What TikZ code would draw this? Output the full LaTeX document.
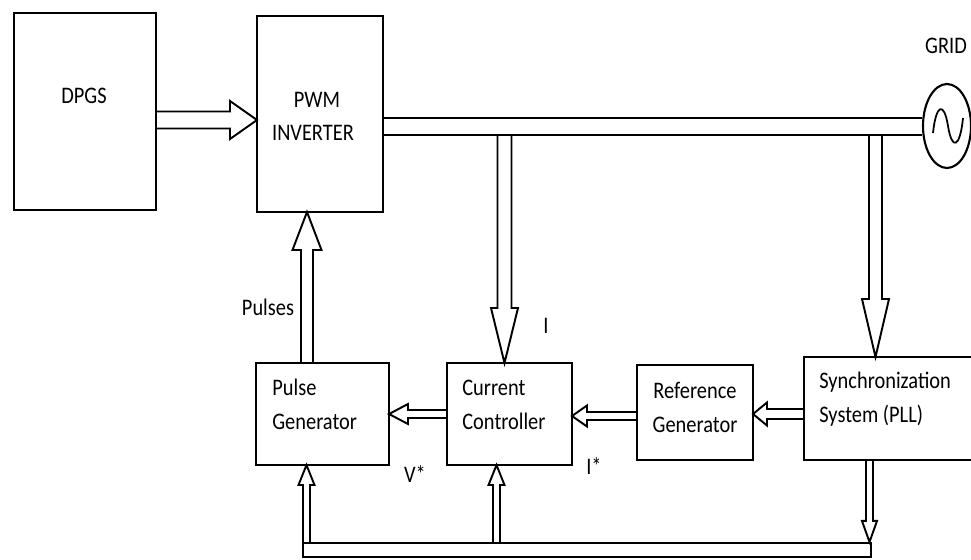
\documentclass[tikz,border=0pt]{standalone}
\usepackage{fontspec}
\setmainfont{Carlito}[FakeStretch=0.86]
\usetikzlibrary{positioning,calc,shapes.geometric}

\newcommand{\pxu}{0.2mm}
% hollow block arrow: tail, tip, shaft half width, head half width, head length
\newcommand{\fatarrow}[5]{%
  \path ($(#2)!#5*\pxu!(#1)$) coordinate (hb);
  \draw[fatline] ($(#1)!#3*\pxu!90:(#2)$) -- ($(hb)!#3*\pxu!90:(#2)$)
    -- ($(hb)!#4*\pxu!90:(#2)$) -- (#2) -- ($(hb)!#4*\pxu!-90:(#2)$)
    -- ($(hb)!#3*\pxu!-90:(#2)$) -- ($(#1)!#3*\pxu!-90:(#2)$);
}

\tikzset{
  blockbox/.style={draw, line width=1.6pt, inner sep=0pt, outer sep=0pt},
  fatline/.style={line width=1.1pt, line join=miter},
  busline/.style={line width=1.3pt},
  lbl/.style={inner sep=0pt, font=\fontsize{13.5}{16}\selectfont},
}

\begin{document}
\begin{tikzpicture}[x=0.2mm, y=-0.2mm]
\useasboundingbox (0,0) rectangle (971,559);
% blocks
\node[blockbox, minimum width=28.4mm, minimum height=39.4mm] (dpgs) at (85,111.5) {};
\node[blockbox, minimum width=25.2mm, minimum height=39.2mm] (pwm) at (320,114) {};
\node[blockbox, minimum width=26.6mm, minimum height=20.4mm] (pulsegen) at (322.5,414) {};
\node[blockbox, minimum width=25mm, minimum height=20.4mm] (curctrl) at (509.5,414) {};
\node[blockbox, minimum width=23.2mm, minimum height=19mm] (refgen) at (695,412.5) {};
\node[blockbox, minimum width=35.2mm, minimum height=20.6mm] (sync) at (892,408.5) {};
\node[ellipse, draw, line width=1.2pt, minimum width=9.6mm, minimum height=16.8mm, inner sep=0pt] (grid) at (947,126) {};
\node[draw, line width=1.2pt, inner sep=0pt, minimum width=113.6mm, minimum height=2.8mm] (bus) at (587,550) {};
% source symbol
\draw[line width=1pt] (933,133) .. controls (936,104) and (944,101) .. (948,126)
  .. controls (952,151) and (960,148) .. (963,118);
% labels
\node[lbl, anchor=base] (tdpgs) at (84,103) {DPGS};
\node[lbl, anchor=base] (tpwm) at (317,107) {PWM};
\node[lbl, anchor=base] (tinv) at (313,140) {INVERTER};
\node[lbl, anchor=base] (tgrid) at (946,53) {GRID};
\node[lbl, anchor=base] (tpulses) at (268,315) {Pulses};
\node[lbl, anchor=base] (ti) at (546,333) {I};
\node[lbl, anchor=base west] (tpg1) at (272,395) {Pulse};
\node[lbl, anchor=base west] (tpg2) at (272,429) {Generator};
\node[lbl, anchor=base west] (tcc1) at (462,395) {Current};
\node[lbl, anchor=base west] (tcc2) at (462,429) {Controller};
\node[lbl, anchor=base] (trg1) at (695,398) {Reference};
\node[lbl, anchor=base] (trg2) at (695,432) {Generator};
\node[lbl, anchor=base west] (ts1) at (819,388) {Synchronization};
\node[lbl, anchor=base west] (ts2) at (819,422) {System (PLL)};
\node[lbl, anchor=base] (tv) at (415,482) {V*};
\node[lbl, anchor=base] (tistar) at (594,474) {I*};
% arrow axes
\coordinate (ax1) at (200,120);
\coordinate (ax2) at (307,300);
\coordinate (ax3) at (504.5,300);
\coordinate (ax4) at (875.5,300);
\coordinate (ax5) at (869.5,500);
\coordinate (ax6) at (306.5,500);
\coordinate (ax7) at (496.5,500);
\coordinate (ax8) at (600,416);
\coordinate (ax9) at (780,414);
\coordinate (busup) at (400,118);
\coordinate (buslo) at (400,135);
% power line to grid
\draw[busline] (pwm.east |- busup) -- (grid.west |- busup);
\draw[busline] (pwm.east |- buslo) -- (grid.west |- buslo);
% block arrows
\fatarrow{dpgs.east |- ax1}{pwm.west |- ax1}{8.5}{19}{27}
\fatarrow{pulsegen.north -| ax2}{pwm.south -| ax2}{6}{14.5}{38}
\fatarrow{buslo -| ax3}{curctrl.north -| ax3}{7}{13.5}{55}
\fatarrow{buslo -| ax4}{sync.north -| ax4}{6.5}{13.5}{58}
\fatarrow{curctrl.west}{pulsegen.east}{4}{10}{19}
\fatarrow{refgen.west |- ax8}{curctrl.east |- ax8}{4}{10.5}{15}
\fatarrow{sync.west |- ax9}{refgen.east |- ax9}{5}{11.5}{14}
\fatarrow{sync.south -| ax5}{bus.north -| ax5}{3.5}{7.5}{21}
\fatarrow{bus.north -| ax6}{pulsegen.south -| ax6}{3.5}{8}{20}
\fatarrow{bus.north -| ax7}{curctrl.south -| ax7}{3.5}{8}{20}
\end{tikzpicture}
\end{document}
